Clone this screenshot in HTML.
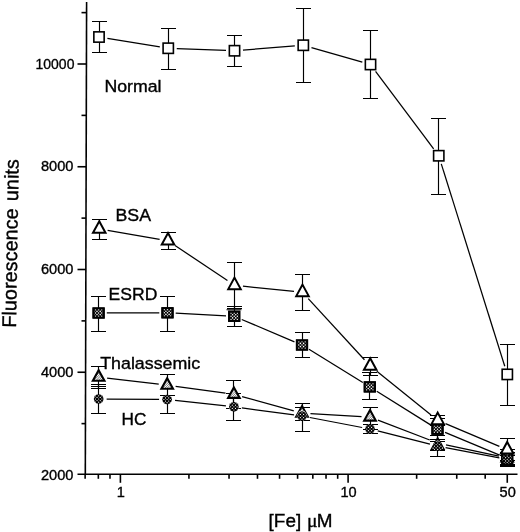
<!DOCTYPE html><html><head><meta charset="utf-8"><title>Fluorescence vs [Fe]</title>
<style>html,body{margin:0;padding:0;background:#fff}body{width:520px;height:532px;overflow:hidden}svg{display:block}text{font-family:"Liberation Sans",Arial,sans-serif;fill:#000;stroke:#000;stroke-width:0.36px}</style></head><body>
<svg width="520" height="532" viewBox="0 0 520 532">
<defs>
<clipPath id="cSq"><rect x="-5.1" y="-4.6" width="10.2" height="9.2"/></clipPath>
<clipPath id="cTr"><path d="M0 -7.00L5.80 3.50H-5.80Z"/></clipPath>
<clipPath id="cCi"><circle r="4.85"/></clipPath>
<g id="mSq"><rect x="-6.1" y="-5.6" width="12.2" height="11.2" fill="#000"/><g clip-path="url(#cSq)"><g fill="#fff"><circle cx="-4.80" cy="-4.80" r="0.78"/><circle cx="-4.80" cy="-1.60" r="0.78"/><circle cx="-4.80" cy="1.60" r="0.78"/><circle cx="-4.80" cy="4.80" r="0.78"/><circle cx="-3.20" cy="-3.20" r="0.78"/><circle cx="-3.20" cy="0.00" r="0.78"/><circle cx="-3.20" cy="3.20" r="0.78"/><circle cx="-1.60" cy="-4.80" r="0.78"/><circle cx="-1.60" cy="-1.60" r="0.78"/><circle cx="-1.60" cy="1.60" r="0.78"/><circle cx="-1.60" cy="4.80" r="0.78"/><circle cx="0.00" cy="-3.20" r="0.78"/><circle cx="0.00" cy="0.00" r="0.78"/><circle cx="0.00" cy="3.20" r="0.78"/><circle cx="1.60" cy="-4.80" r="0.78"/><circle cx="1.60" cy="-1.60" r="0.78"/><circle cx="1.60" cy="1.60" r="0.78"/><circle cx="1.60" cy="4.80" r="0.78"/><circle cx="3.20" cy="-3.20" r="0.78"/><circle cx="3.20" cy="0.00" r="0.78"/><circle cx="3.20" cy="3.20" r="0.78"/><circle cx="4.80" cy="-4.80" r="0.78"/><circle cx="4.80" cy="-1.60" r="0.78"/><circle cx="4.80" cy="1.60" r="0.78"/><circle cx="4.80" cy="4.80" r="0.78"/></g></g><rect x="-5.1" y="-4.6" width="10.2" height="9.2" fill="none" stroke="#000" stroke-width="2"/></g>
<g id="mTr"><path d="M0 -7.00L5.80 3.50H-5.80Z" fill="#000"/><g clip-path="url(#cTr)"><path d="M-20.0 8L-4.0 -8M-17.7 8L-1.7 -8M-15.4 8L0.6 -8M-13.1 8L2.9 -8M-10.8 8L5.2 -8M-8.5 8L7.5 -8M-6.2 8L9.8 -8M-3.9 8L12.1 -8M-1.6 8L14.4 -8M0.7 8L16.7 -8M3.0 8L19.0 -8M5.3 8L21.3 -8M7.6 8L23.6 -8M9.9 8L25.9 -8M12.2 8L28.2 -8M14.5 8L30.5 -8M16.8 8L32.8 -8M19.1 8L35.1 -8" stroke="#fff" stroke-width="1.25" fill="none"/></g><path d="M0 -7.00L5.80 3.50H-5.80Z" fill="none" stroke="#000" stroke-width="2.1"/></g>
<g id="mCi"><circle r="4.85" fill="#000"/><g clip-path="url(#cCi)"><g fill="#fff"><circle cx="-4.80" cy="-4.80" r="0.6"/><circle cx="-4.80" cy="-1.60" r="0.6"/><circle cx="-4.80" cy="1.60" r="0.6"/><circle cx="-4.80" cy="4.80" r="0.6"/><circle cx="-3.20" cy="-3.20" r="0.6"/><circle cx="-3.20" cy="0.00" r="0.6"/><circle cx="-3.20" cy="3.20" r="0.6"/><circle cx="-1.60" cy="-4.80" r="0.6"/><circle cx="-1.60" cy="-1.60" r="0.6"/><circle cx="-1.60" cy="1.60" r="0.6"/><circle cx="-1.60" cy="4.80" r="0.6"/><circle cx="0.00" cy="-3.20" r="0.6"/><circle cx="0.00" cy="0.00" r="0.6"/><circle cx="0.00" cy="3.20" r="0.6"/><circle cx="1.60" cy="-4.80" r="0.6"/><circle cx="1.60" cy="-1.60" r="0.6"/><circle cx="1.60" cy="1.60" r="0.6"/><circle cx="1.60" cy="4.80" r="0.6"/><circle cx="3.20" cy="-3.20" r="0.6"/><circle cx="3.20" cy="0.00" r="0.6"/><circle cx="3.20" cy="3.20" r="0.6"/><circle cx="4.80" cy="-4.80" r="0.6"/><circle cx="4.80" cy="-1.60" r="0.6"/><circle cx="4.80" cy="1.60" r="0.6"/><circle cx="4.80" cy="4.80" r="0.6"/></g></g></g>
<path id="mOT" d="M0 -7.67L6.25 3.83H-6.25Z" fill="#fff" stroke="#000" stroke-width="2"/>
<rect id="mOS" x="-5.15" y="-5.15" width="10.3" height="10.3" fill="#fff" stroke="#000" stroke-width="1.6"/>
</defs>
<rect width="520" height="532" fill="#fff"/>
<g stroke="#000" stroke-width="1.6" fill="none">
<path d="M86.6 2L85.3 475.0"/>
<path d="M77.5 474.3H517.5"/>
<path d="M81.5 423.62H86"/>
<path d="M77.5 372.25H86"/>
<path d="M81.5 320.88H86"/>
<path d="M77.5 269.50H86"/>
<path d="M81.5 218.12H86"/>
<path d="M77.5 166.75H86"/>
<path d="M81.5 115.38H86"/>
<path d="M77.5 64.00H86"/>
<path d="M81.5 12.62H86"/>
<path d="M85.13 474.3V478.8"/>
<path d="M98.33 474.3V478.8"/>
<path d="M109.98 474.3V478.8"/>
<path d="M120.40 474.3V482.8"/>
<path d="M188.94 474.3V478.8"/>
<path d="M229.04 474.3V478.8"/>
<path d="M257.49 474.3V478.8"/>
<path d="M279.56 474.3V478.8"/>
<path d="M297.59 474.3V478.8"/>
<path d="M312.83 474.3V478.8"/>
<path d="M326.03 474.3V478.8"/>
<path d="M337.68 474.3V478.8"/>
<path d="M348.10 474.3V482.8"/>
<path d="M416.64 474.3V478.8"/>
<path d="M456.74 474.3V478.8"/>
<path d="M485.19 474.3V478.8"/>
<path d="M507.26 474.3V482.8"/>
</g>
<text x="40.9" y="479.6" font-size="15.3" textLength="32.5" lengthAdjust="spacingAndGlyphs">2000</text>
<text x="40.9" y="376.9" font-size="15.3" textLength="32.5" lengthAdjust="spacingAndGlyphs">4000</text>
<text x="40.9" y="274.1" font-size="15.3" textLength="32.5" lengthAdjust="spacingAndGlyphs">6000</text>
<text x="40.9" y="171.3" font-size="15.3" textLength="32.5" lengthAdjust="spacingAndGlyphs">8000</text>
<text x="35.6" y="68.6" font-size="15.3" textLength="38.8" lengthAdjust="spacingAndGlyphs">10000</text>
<text x="116.8" y="497.2" font-size="15.3" textLength="8.1" lengthAdjust="spacingAndGlyphs">1</text>
<text x="340.5" y="497.2" font-size="15.3" textLength="16.2" lengthAdjust="spacingAndGlyphs">10</text>
<text x="499.6" y="497.2" font-size="15.3" textLength="16.2" lengthAdjust="spacingAndGlyphs">50</text>
<text x="268.6" y="526.5" font-size="18.9">[Fe] <tspan dx="0.5" font-family="Liberation Serif,serif" font-size="19.5">μ</tspan><tspan dx="-0.5">M</tspan></text>
<text transform="translate(16 327.8) rotate(-89.1)" font-size="19.9">Fluorescence</text>
<text transform="translate(18.1 201.2) rotate(-89.1)" font-size="19.9">units</text>
<text x="104.5" y="92.1" font-size="17.2" textLength="57" lengthAdjust="spacingAndGlyphs">Normal</text>
<text x="115.5" y="220.7" font-size="17.2" textLength="35.5" lengthAdjust="spacingAndGlyphs">BSA</text>
<text x="108.6" y="299.8" font-size="17.2" textLength="48.8" lengthAdjust="spacingAndGlyphs">ESRD</text>
<text x="100.2" y="368.8" font-size="17.2" textLength="100" lengthAdjust="spacingAndGlyphs">Thalassemic</text>
<text x="121.5" y="424.6" font-size="17.2">HC</text>
<g stroke="#000" stroke-width="1.25" fill="none">
<path d="M107.39 38.36L159.86 46.89"/>
<path d="M176.74 48.57L226.01 50.43"/>
<path d="M242.97 50.07L294.83 45.93"/>
<path d="M311.47 47.59L362.33 62.16"/>
<path d="M375.59 71.31L433.66 148.94"/>
<path d="M441.29 163.86L504.76 366.29"/>
<path stroke-width="1.15" d="M99.5 21.5V52.5M92.0 21.5h15M92.0 52.5h15"/>
<path stroke-width="1.15" d="M168.5 28.5V69.5M161.0 28.5h15M161.0 69.5h15"/>
<path stroke-width="1.15" d="M234.5 35.5V66.5M227.0 35.5h15M227.0 66.5h15"/>
<path stroke-width="1.15" d="M303.5 8.5V82.5M296.0 8.5h15M296.0 82.5h15"/>
<path stroke-width="1.15" d="M370.5 30.5V98.5M363.0 30.5h15M363.0 98.5h15"/>
<path stroke-width="1.15" d="M438.5 118.5V194.5M431.0 118.5h15M431.0 194.5h15"/>
<path stroke-width="1.15" d="M507.5 344.5V405.5M500.0 344.5h15M500.0 405.5h15"/>
<path d="M107.63 230.43L159.62 239.32"/>
<path d="M175.06 245.48L227.44 280.57"/>
<path d="M242.96 286.17L294.04 291.43"/>
<path d="M308.25 298.56L364.45 359.74"/>
<path d="M376.82 371.33L431.08 414.97"/>
<path d="M445.53 423.60L499.37 446.30"/>
<path stroke-width="1.15" d="M99.5 219.5V239.5M92.0 219.5h15M92.0 239.5h15"/>
<path stroke-width="1.15" d="M168.5 232.5V249.5M161.0 232.5h15M161.0 249.5h15"/>
<path stroke-width="1.15" d="M234.5 262.5V308.5M227.0 262.5h15M227.0 308.5h15"/>
<path stroke-width="1.15" d="M302.5 274.5V310.5M295.0 274.5h15M295.0 310.5h15"/>
<path stroke-width="1.15" d="M370.5 357.5V375.5M363.0 357.5h15M363.0 375.5h15"/>
<path stroke-width="1.15" d="M437.5 415.5V425.5M430.0 415.5h15M430.0 425.5h15"/>
<path stroke-width="1.15" d="M507.5 438.5V460.5M500.0 438.5h15M500.0 460.5h15"/>
<path d="M106.80 312.98L159.30 312.82"/>
<path d="M175.69 313.23L226.01 315.87"/>
<path d="M241.75 319.50L294.45 341.80"/>
<path d="M308.98 349.31L362.82 382.59"/>
<path d="M376.75 391.25L430.55 424.85"/>
<path d="M445.07 432.36L499.63 455.14"/>
<path stroke-width="1.15" d="M98.5 296.5V331.5M91.0 296.5h15M91.0 331.5h15"/>
<path stroke-width="1.15" d="M167.5 296.5V331.5M160.0 296.5h15M160.0 331.5h15"/>
<path stroke-width="1.15" d="M234.5 306.5V326.5M227.0 306.5h15M227.0 326.5h15"/>
<path stroke-width="1.15" d="M302.5 332.5V357.5M295.0 332.5h15M295.0 357.5h15"/>
<path stroke-width="1.15" d="M369.5 372.5V399.5M362.0 372.5h15M362.0 399.5h15"/>
<path stroke-width="1.15" d="M437.5 418.5V439.5M430.0 418.5h15M430.0 439.5h15"/>
<path stroke-width="1.15" d="M507.5 452.5V464.5M500.0 452.5h15M500.0 464.5h15"/>
<path d="M107.09 378.19L158.76 384.21"/>
<path d="M175.62 386.36L225.48 393.24"/>
<path d="M242.10 396.65L293.80 410.85"/>
<path d="M310.49 413.60L361.51 416.60"/>
<path d="M377.94 420.14L429.76 439.96"/>
<path d="M446.01 444.78L498.89 456.12"/>
<path stroke-width="1.15" d="M98.5 366.5V388.5M91.0 366.5h15M91.0 388.5h15"/>
<path stroke-width="1.15" d="M167.5 374.5V395.5M160.0 374.5h15M160.0 395.5h15"/>
<path stroke-width="1.15" d="M233.5 380.5V408.5M226.0 380.5h15M226.0 408.5h15"/>
<path stroke-width="1.15" d="M302.5 403.5V420.5M295.0 403.5h15M295.0 420.5h15"/>
<path stroke-width="1.15" d="M370.5 407.5V429.5M363.0 407.5h15M363.0 429.5h15"/>
<path stroke-width="1.15" d="M437.5 435.5V456.5M430.0 435.5h15M430.0 456.5h15"/>
<path stroke-width="1.15" d="M507.5 449.5V465.5M500.0 449.5h15M500.0 465.5h15"/>
<path d="M106.65 399.06L159.10 399.44"/>
<path d="M175.05 400.37L225.95 405.93"/>
<path d="M241.83 407.87L294.07 414.93"/>
<path d="M309.86 417.50L362.14 427.50"/>
<path d="M377.75 430.97L429.95 444.23"/>
<path d="M445.56 447.68L499.34 457.82"/>
<path stroke-width="1.15" d="M98.5 384.5V413.5M91.0 384.5h15M91.0 413.5h15"/>
<path stroke-width="1.15" d="M167.5 395.5V413.5M160.0 395.5h15M160.0 413.5h15"/>
<path stroke-width="1.15" d="M233.5 393.5V420.5M226.0 393.5h15M226.0 420.5h15"/>
<path stroke-width="1.15" d="M302.5 407.5V431.5M295.0 407.5h15M295.0 431.5h15"/>
<path stroke-width="1.15" d="M370.5 424.5V433.5M363.0 424.5h15M363.0 433.5h15"/>
<path stroke-width="1.15" d="M437.5 441.5V450.5M430.0 441.5h15M430.0 450.5h15"/>
<path stroke-width="1.15" d="M507.5 455.5V466.5M500.0 455.5h15M500.0 466.5h15"/>
<path stroke-width="1.15" d="M91.0 386.5h15M226.5 309.7h15"/>
</g>
<use href="#mSq" x="98.6" y="313"/>
<use href="#mSq" x="167.5" y="312.8"/>
<use href="#mSq" x="234.2" y="316.3"/>
<use href="#mSq" x="302" y="345"/>
<use href="#mSq" x="369.8" y="386.9"/>
<use href="#mSq" x="437.5" y="429.2"/>
<use href="#mSq" x="507.2" y="458.3"/>
<use href="#mTr" x="98.65" y="377.2"/>
<use href="#mTr" x="167.2" y="385.2"/>
<use href="#mTr" x="233.9" y="394.4"/>
<use href="#mTr" x="302" y="413.1"/>
<use href="#mTr" x="370" y="417.1"/>
<use href="#mTr" x="437.7" y="445.4"/>
<use href="#mTr" x="507.2" y="457.9"/>
<use href="#mCi" x="98.65" y="399"/>
<use href="#mCi" x="167.1" y="399.5"/>
<use href="#mCi" x="233.9" y="406.8"/>
<g transform="translate(302 413.1)" clip-path="url(#cTr)"><circle cx="0.00" cy="2.90" r="5.6" fill="#fff"/></g>
<use href="#mCi" x="302" y="416"/>
<use href="#mCi" x="370" y="429"/>
<g transform="translate(437.7 445.4)" clip-path="url(#cTr)"><circle cx="0.00" cy="0.80" r="5.6" fill="#fff"/></g>
<use href="#mCi" x="437.7" y="446.2"/>
<use href="#mCi" x="507.2" y="459.3"/>
<use href="#mOT" x="99.25" y="229.0"/>
<use href="#mOT" x="168" y="240.75"/>
<use href="#mOT" x="234.5" y="285.3"/>
<use href="#mOT" x="302.5" y="292.3"/>
<use href="#mOT" x="370.2" y="366.0"/>
<use href="#mOT" x="437.7" y="420.3"/>
<use href="#mOT" x="507.2" y="449.6"/>
<use href="#mOS" x="99" y="37"/>
<use href="#mOS" x="168.25" y="48.25"/>
<use href="#mOS" x="234.5" y="50.75"/>
<use href="#mOS" x="303.3" y="45.25"/>
<use href="#mOS" x="370.5" y="64.5"/>
<use href="#mOS" x="438.75" y="155.75"/>
<use href="#mOS" x="507.3" y="374.4"/>
</svg></body></html>
